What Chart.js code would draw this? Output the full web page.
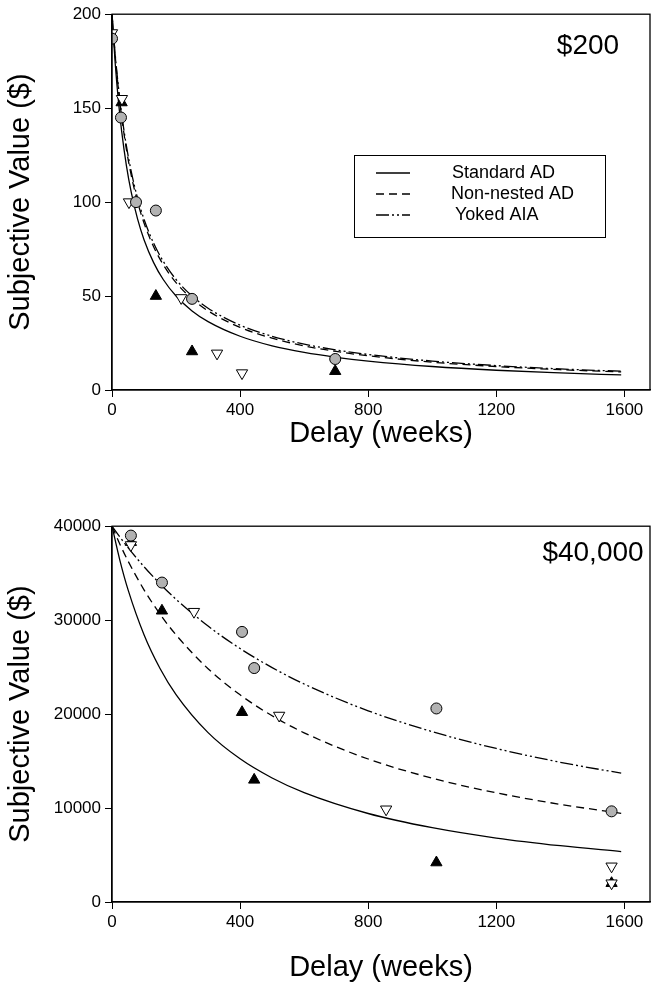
<!DOCTYPE html>
<html>
<head>
<meta charset="utf-8">
<script src="https://cdn.jsdelivr.net/npm/chart.js@4.4.0/dist/chart.umd.min.js"></script>
<style>
body { margin: 0; background: #fff; }
.panel { position: absolute; left: 0; width: 658px; }
</style>
</head>
<body>
<div class="panel" style="top:0;height:512px"><canvas id="smallChart"></canvas></div>
<div class="panel" style="top:512px;height:478px"><canvas id="largeChart"></canvas></div>
<script>
// ticks
const xTicks = [0, 400, 800, 1200, 1600]
const smallYTicks = [0, 50, 100, 150, 200]
const largeYTicks = [0, 10000, 20000, 30000, 40000]

// $200 panel, observed points
const smallCircleX = [0, 28, 75, 137, 250, 697]
const smallCircleY = [187, 145, 100, 95.5, 48.5, 16.5]
const smallFilledX = [30, 137, 250, 697]
const smallFilledY = [153, 50, 20.5, 10]
const smallOpenX = [0, 31, 53, 216, 328, 406]
const smallOpenY = [190, 155, 100, 49, 19.5, 9]

// $200 panel, fitted curves
const smallCurveX = [0, 10, 20, 30, 45, 60, 80, 100, 130, 160, 200, 250, 300, 400, 500, 600, 700, 800, 1000, 1200, 1400, 1590]
const smallStandard = [200, 173.9, 153.8, 137.9, 119.4, 105.3, 90.9, 80, 67.8, 58.8, 50, 42.1, 36.4, 28.6, 23.5, 20, 17.4, 15.4, 12.5, 10.5, 9.1, 8.0]
const smallNonNested = [200, 177.8, 160, 145.5, 128, 114.3, 100, 88.9, 76.2, 66.7, 57.1, 48.5, 42.1, 33.3, 27.6, 23.5, 20.5, 18.2, 14.8, 12.5, 10.8, 9.6]
const smallYoked = [200, 178.6, 161.3, 147.1, 129.9, 116.3, 102, 90.9, 78.1, 68.5, 58.8, 50, 43.5, 34.5, 28.6, 24.4, 21.3, 18.9, 15.4, 13, 11.2, 10]

// $40,000 panel, observed points
const largeCircleX = [59, 156, 406, 444, 1013, 1560]
const largeCircleY = [39000, 34000, 28750, 24900, 20600, 9650]
const largeFilledX = [59, 156, 406, 444, 1013, 1560]
const largeFilledY = [38300, 31000, 20200, 13000, 4200, 2000]
const largeOpenX = [59, 256, 522, 856, 1560, 1560]
const largeOpenY = [38000, 30900, 19850, 9870, 3800, 2000]

// $40,000 panel, fitted curves
const largeCurveX = [0, 25, 50, 100, 150, 200, 300, 400, 500, 600, 800, 1000, 1200, 1400, 1590]
const largeStandard = [40000, 36310, 33250, 28450, 24860, 22080, 18030, 15240, 13200, 11640, 9420, 7910, 6810, 5990, 5370]
const largeNonNested = [40000, 38060, 36300, 33230, 30640, 28430, 24830, 22050, 19820, 18010, 15220, 13180, 11620, 10390, 9440]
const largeYoked = [40000, 38830, 37720, 35690, 33870, 32220, 29370, 26980, 24950, 23200, 20350, 18130, 16340, 14870, 13710]

const seriesNames = ["Standard AD", "Non-nested AD", "Yoked AIA"]
const dashes = [[], [8, 5], [13, 3, 2, 3, 2, 3]]

const FONT = "'Liberation Sans', Arial, sans-serif"

function pts(xs, ys) {
  return xs.map((x, i) => ({ x: x, y: ys[i] }))
}

function curve(xs, ys, i) {
  return {
    label: seriesNames[i],
    data: pts(xs, ys),
    showLine: true,
    pointRadius: 0,
    borderColor: "#000",
    borderWidth: 1.3,
    borderDash: dashes[i],
    cubicInterpolationMode: "monotone",
    order: 3
  }
}

// frame, panel label and legend
const framePlugin = {
  id: "frame",
  afterDatasetsDraw(chart, args, opts) {
    const ctx = chart.ctx
    const a = chart.chartArea
    ctx.save()
    ctx.strokeStyle = "#000"
    ctx.lineWidth = 1.3
    ctx.strokeRect(a.left, a.top, a.right - a.left, a.bottom - a.top)
    ctx.fillStyle = "#000"
    ctx.font = "28px " + FONT
    ctx.textAlign = "center"
    ctx.textBaseline = "middle"
    ctx.fillText(opts.label, opts.labelX, opts.labelY)
    if (opts.legend) {
      ctx.lineWidth = 1
      ctx.strokeRect(354.5, 155.5, 251, 82)
      ctx.font = "18px " + FONT
      ctx.textAlign = "left"
      const rows = [173, 194, 215]
      const textX = [452, 451, 455]
      rows.forEach((y, i) => {
        ctx.setLineDash(dashes[i])
        ctx.lineWidth = 1.3
        ctx.beginPath()
        ctx.moveTo(376, y)
        ctx.lineTo(410, y)
        ctx.stroke()
        ctx.setLineDash([])
        ctx.fillText(seriesNames[i], textX[i], y)
      })
    }
    ctx.restore()
  }
}

function makeChart(id, d, yMax, yTicks, frameOpts, xHeight, padBottom) {
  new Chart(document.getElementById(id), {
    type: "scatter",
    data: {
      datasets: [
        { data: pts(d.cx, d.cy), pointStyle: "circle", pointRadius: 5.5, backgroundColor: "#b2b2b2", borderColor: "#000", borderWidth: 1, order: 0 },
        { data: pts(d.ox, d.oy), pointStyle: "triangle", rotation: 180, pointRadius: 6.5, backgroundColor: "#fff", borderColor: "#000", borderWidth: 1, order: 1 },
        { data: pts(d.fx, d.fy), pointStyle: "triangle", pointRadius: 6.5, backgroundColor: "#000", borderColor: "#000", borderWidth: 1, order: 2 },
        curve(d.lx, d.std, 0),
        curve(d.lx, d.nn, 1),
        curve(d.lx, d.yk, 2)
      ]
    },
    options: {
      responsive: true,
      maintainAspectRatio: false,
      animation: false,
      layout: { padding: { top: 13, right: 8, left: 4, bottom: padBottom } },
      plugins: {
        legend: { display: false },
        tooltip: { enabled: false },
        frame: frameOpts
      },
      scales: {
        x: {
          type: "linear",
          min: 0,
          max: 1680,
          afterBuildTicks: s => { s.ticks = xTicks.map(v => ({ value: v })) },
          afterFit: s => { s.height = xHeight },
          grid: { drawOnChartArea: false, tickLength: 7, color: "#000", lineWidth: 1 },
          border: { color: "#000", width: 1.3 },
          ticks: { color: "#000", font: { family: FONT, size: 17 }, padding: 3, maxRotation: 0, callback: v => String(v) },
          title: { display: true, text: "Delay (weeks)", color: "#000", font: { family: FONT, size: 29 }, padding: 0 }
        },
        y: {
          type: "linear",
          min: 0,
          max: yMax,
          afterBuildTicks: s => { s.ticks = yTicks.map(v => ({ value: v })) },
          afterFit: s => { s.width = 108 },
          grid: { drawOnChartArea: false, tickLength: 7, color: "#000", lineWidth: 1 },
          border: { color: "#000", width: 1.3 },
          ticks: { color: "#000", font: { family: FONT, size: 17 }, padding: 4, callback: v => String(v) },
          title: { display: true, text: "Subjective Value ($)", color: "#000", font: { family: FONT, size: 29 }, padding: 0 }
        }
      }
    },
    plugins: [framePlugin]
  })
}

makeChart("smallChart", {
  cx: smallCircleX, cy: smallCircleY,
  fx: smallFilledX, fy: smallFilledY,
  ox: smallOpenX, oy: smallOpenY,
  lx: smallCurveX, std: smallStandard, nn: smallNonNested, yk: smallYoked
}, 200, smallYTicks, { label: "$200", labelX: 588, labelY: 46, legend: true }, 61, 61)

makeChart("largeChart", {
  cx: largeCircleX, cy: largeCircleY,
  fx: largeFilledX, fy: largeFilledY,
  ox: largeOpenX, oy: largeOpenY,
  lx: largeCurveX, std: largeStandard, nn: largeNonNested, yk: largeYoked
}, 40000, largeYTicks, { label: "$40,000", labelX: 593, labelY: 41, legend: false }, 83, 5)
</script>
</body>
</html>
